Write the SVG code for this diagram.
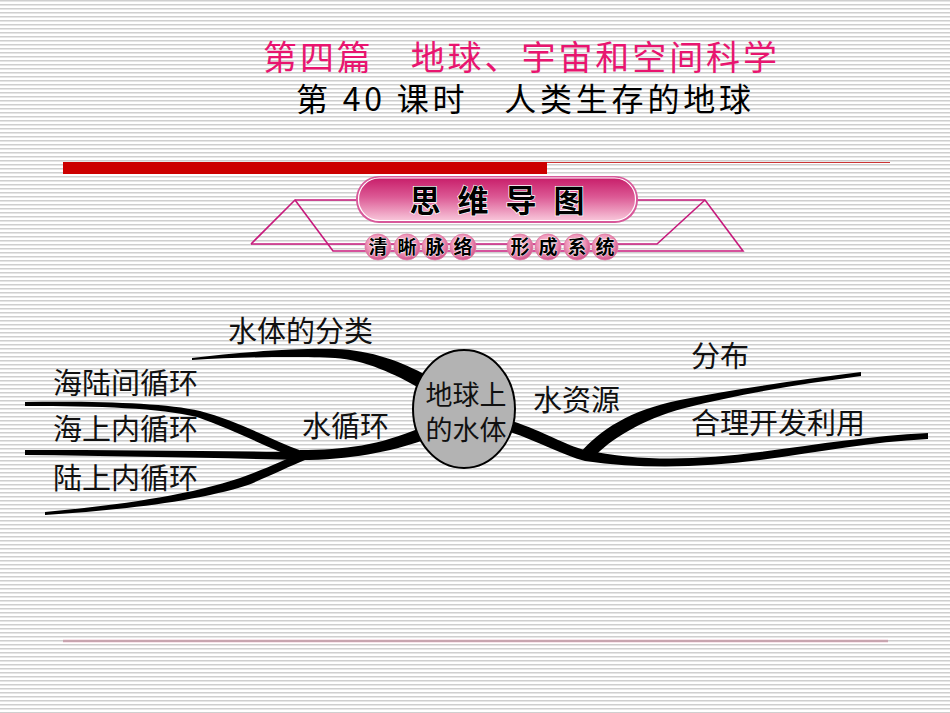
<svg xmlns="http://www.w3.org/2000/svg" width="950" height="713" viewBox="0 0 950 713">
<defs>
<pattern id="stripes" x="0" y="0" width="8" height="4" patternUnits="userSpaceOnUse">
<rect x="0" y="0" width="8" height="4" fill="#ffffff"/>
<rect x="0" y="0" width="8" height="1" fill="#cfcfcf"/>
<rect x="0" y="1" width="8" height="1" fill="#e6e6e6"/>
</pattern>
<linearGradient id="banner" x1="0" y1="0" x2="0" y2="1">
<stop offset="0" stop-color="#c81e6a"/>
<stop offset="0.45" stop-color="#dc5a95"/>
<stop offset="1" stop-color="#f8c6da"/>
</linearGradient>
<radialGradient id="ball" cx="0.45" cy="0.4" r="0.6">
<stop offset="0" stop-color="#fbd3e2"/>
<stop offset="0.6" stop-color="#ee95b8"/>
<stop offset="1" stop-color="#d2538a"/>
</radialGradient>
<style>
.pk{fill:none;stroke:#c71a7c;stroke-width:1.6}
.br{fill:#000}
.lbl{font-family:"Noto Sans CJK SC","Noto Sans CJK JP",sans-serif;font-size:29px;fill:#111}
.ctr{font-family:"Noto Sans CJK SC","Noto Sans CJK JP",sans-serif;font-size:27px;fill:#111;text-anchor:middle}
.bt{font-family:"Noto Sans CJK SC",sans-serif;font-weight:bold;font-size:31px;fill:#000;stroke:#fff;stroke-width:1.4;paint-order:stroke;text-anchor:middle}
.st{font-family:"Noto Sans CJK SC",sans-serif;font-weight:bold;font-size:19px;fill:#000;stroke:#fff;stroke-width:0.8;paint-order:stroke;text-anchor:middle}
.ball{fill:url(#ball);stroke:#e07aa4;stroke-width:0.8}
</style>
</defs>
<rect x="0" y="0" width="950" height="713" fill="url(#stripes)"/>

<g id="title">
<text x="263" y="70" font-family="'Noto Sans CJK SC','Noto Sans CJK JP',sans-serif" font-size="34" fill="#e8156f" textLength="514" lengthAdjust="spacing">第四篇　地球、宇宙和空间科学</text>
<text x="296" y="111" font-family="'Noto Sans CJK SC','Noto Sans CJK JP',sans-serif" font-size="32" fill="#000" textLength="455" lengthAdjust="spacing">第 40 课时　人类生存的地球</text>
</g>

<g id="rules">
<rect x="63" y="162" width="484" height="12" fill="#cc0000"/>
<line x1="547" y1="162.5" x2="890" y2="162.5" stroke="#cc3333" stroke-width="1"/>
<line x1="63" y1="641" x2="888" y2="641" stroke="#f3cfdc" stroke-width="3"/>
<line x1="63" y1="641" x2="888" y2="641" stroke="#9c7a82" stroke-width="1"/>
</g>

<g id="banner-deco">
<polyline class="pk" points="251,244 295,200 358,200"/>
<polyline class="pk" points="295,200 333,251 380,251"/>
<line class="pk" x1="251" y1="244" x2="380" y2="244"/>
<polyline class="pk" points="636,200 705,200 743,251 600,251"/>
<polyline class="pk" points="600,244 657,244 705,200"/>
<line class="pk" x1="380" y1="244" x2="600" y2="244"/>
<line class="pk" x1="380" y1="251" x2="600" y2="251"/>
<rect x="356" y="176" width="282" height="47" rx="23" fill="#d8589a"/>
<rect x="358.5" y="178" width="277" height="42.5" rx="21" fill="url(#banner)" stroke="#ffffff" stroke-width="1.2"/>
<text class="bt" x="425" y="212">思</text>
<text class="bt" x="473" y="212">维</text>
<text class="bt" x="521" y="212">导</text>
<text class="bt" x="569" y="212">图</text>
<circle class="ball" cx="378" cy="247" r="13"/>
<circle class="ball" cx="407" cy="247" r="13"/>
<circle class="ball" cx="435" cy="247" r="13"/>
<circle class="ball" cx="463" cy="247" r="13"/>
<circle class="ball" cx="520" cy="247" r="13"/>
<circle class="ball" cx="548" cy="247" r="13"/>
<circle class="ball" cx="577" cy="247" r="13"/>
<circle class="ball" cx="605" cy="247" r="13"/>
<text class="st" x="378" y="254">清</text>
<text class="st" x="407" y="254">晰</text>
<text class="st" x="435" y="254">脉</text>
<text class="st" x="463" y="254">络</text>
<text class="st" x="520" y="254">形</text>
<text class="st" x="548" y="254">成</text>
<text class="st" x="577" y="254">系</text>
<text class="st" x="605" y="254">统</text>
</g>

<g id="connectors">
<path class="br" d="M192,358 C240,352 300,348 335,349 C372,350 402,362 428,376 L421,389 C395,374 365,360 335,358 C300,356 240,357 192,360 Z"/>
<path class="br" d="M420,428 C380,445 345,450 300,450 L300,460 C350,460 390,452 424,440 Z"/>
<path class="br" d="M25,402 C100,401 165,403 200,411 C238,421 272,440 302,451 L298,459 C266,447 234,430 197,417 C160,408 100,406 25,406 Z"/>
<path class="br" d="M25,450 C120,450 220,451 302,452 L300,460 C220,458 120,456 25,455 Z"/>
<path class="br" d="M45,512 C120,505 190,495 240,478 C265,469 285,460 300,453 L305,460 C290,466 270,476 248,485 C195,502 120,510 45,515 Z"/>
<path class="br" d="M512,421 C545,432 565,445 585,450 C640,462 700,460 760,452 C820,444 870,436 928,433 L928,439 C870,442 820,452 760,460 C700,468 640,469 585,461 C562,455 540,442 510,432 Z"/>
<path class="br" d="M580,453 C600,430 630,410 680,400 C740,388 800,380 861,372 L861,376 C800,384 740,394 685,408 C640,420 610,440 594,457 Z"/>
</g>

<g id="center">
<ellipse cx="464" cy="409" rx="51" ry="59" fill="#b3b3b3" stroke="#000" stroke-width="2"/>
<text class="ctr" x="466" y="405">地球上</text>
<text class="ctr" x="466" y="440">的水体</text>
</g>
<g id="n-classify"><text class="lbl" x="228" y="342">水体的分类</text></g>
<g id="n-cycle"><text class="lbl" x="302" y="437">水循环</text></g>
<g id="n-sea-land"><text class="lbl" x="53" y="394">海陆间循环</text></g>
<g id="n-sea"><text class="lbl" x="53" y="440">海上内循环</text></g>
<g id="n-land"><text class="lbl" x="53" y="489">陆上内循环</text></g>
<g id="n-resource"><text class="lbl" x="533" y="411">水资源</text></g>
<g id="n-distribution"><text class="lbl" x="691" y="367">分布</text></g>
<g id="n-use"><text class="lbl" x="691" y="434">合理开发利用</text></g>
</svg>
